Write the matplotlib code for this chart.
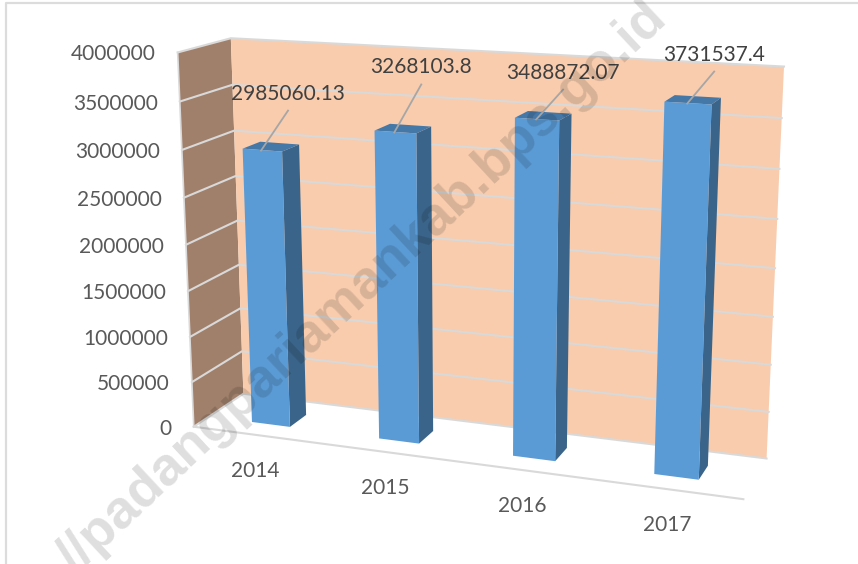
import numpy as np
import matplotlib
matplotlib.use('Agg')
import matplotlib.pyplot as plt
from matplotlib.patches import Polygon

years = ['2014', '2015', '2016', '2017']
values = [2985060.13, 3268103.8, 3488872.07, 3731537.4]
value_labels = ['2985060.13', '3268103.8', '3488872.07', '3731537.4']
ticks = [0, 500000, 1000000, 1500000, 2000000, 2500000, 3000000, 3500000, 4000000]
ymax = 4000000

plt.rcParams['font.family'] = ['Lato', 'DejaVu Sans']

# screen position of the walls at each tick, used to calibrate the 3d view
front_left = [(193, 426), (192.5, 382), (190, 337), (188, 292), (186, 245), (184, 198), (182, 150), (180, 102), (177, 52)]
back_left = [(243, 394), (242, 351), (240, 308), (239, 265), (237, 221), (236, 176), (234, 131), (233, 84), (231, 38)]
back_right = [(767, 458), (769, 412), (771, 365), (773, 317), (775, 268), (777, 220), (779, 169), (782, 118), (783, 66)]
front_right = [(743, 499), (761, 84)]

world = []
screen = []
for i in range(9):
    world += [(0, i / 8, 0), (0, i / 8, 1), (1, i / 8, 1)]
    screen += [front_left[i], back_left[i], back_right[i]]
world += [(1, 0, 0), (1, 1, 0)]
screen += front_right

# fit the projection matrix (dlt)
rows = []
for (a, b, c), (x, y) in zip(world, screen):
    x, y = x / 1000, y / 1000
    rows.append([a, b, c, 1, 0, 0, 0, 0, -x * a, -x * b, -x * c, -x])
    rows.append([0, 0, 0, 0, a, b, c, 1, -y * a, -y * b, -y * c, -y])
P = np.linalg.svd(np.array(rows))[2][-1].reshape(3, 4)


def proj(u, val, d):
    h = P @ np.array([u, val / ymax, d, 1.0])
    return h[0] / h[2] * 1000, h[1] / h[2] * 1000


fig = plt.figure(figsize=(8.58, 5.64), dpi=100)
ax = fig.add_axes([0, 0, 1, 1])
ax.set_xlim(0, 858)
ax.set_ylim(564, 0)
ax.axis('off')

# outer frame of the screenshot
ax.plot([6, 6, 858], [564, 3, 3], color='#dcdcdc', lw=1.6, zorder=1)

# walls
ax.add_patch(Polygon([proj(0, 0, 0), proj(0, ymax, 0), proj(0, ymax, 1), proj(0, 0, 1)],
                     fc='#a0806b', ec='none', zorder=2))
ax.add_patch(Polygon([proj(0, 0, 1), proj(0, ymax, 1), proj(1, ymax, 1), proj(1, 0, 1)],
                     fc='#f8ccad', ec='none', zorder=2))

grid_col = '#d9d9d9'
for t in ticks:
    a, b, c = proj(0, t, 0), proj(0, t, 1), proj(1, t, 1)
    ax.plot([a[0], b[0], c[0]], [a[1], b[1], c[1]], color=grid_col, lw=1.5, zorder=3)
    ax.text(a[0] - 22, a[1] + 2, str(t), ha='right', va='center', fontsize=15, color='#595959', zorder=3)

# floor and edge lines
a, b = proj(0, 0, 0), proj(1, 0, 0)
ax.plot([a[0], b[0]], [a[1], b[1]], color=grid_col, lw=1.5, zorder=3)
a, b = proj(0, 0, 0), proj(0, ymax, 0)
ax.plot([a[0], b[0]], [a[1], b[1]], color=grid_col, lw=1.2, zorder=3)

# bars
half = 0.038
d0, d1 = 0.3, 0.65
leader_dy = [40, 48, 30, 32]
for i, v in enumerate(values):
    u = (i + 0.5) / 4
    l, r = u - half, u + half
    side = [proj(r, 0, d0), proj(r, v, d0), proj(r, v, d1), proj(r, 0, d1)]
    top = [proj(l, v, d0), proj(r, v, d0), proj(r, v, d1), proj(l, v, d1)]
    front = [proj(l, 0, d0), proj(l, v, d0), proj(r, v, d0), proj(r, 0, d0)]
    ax.add_patch(Polygon(side, fc='#3a6489', ec='none', zorder=4))
    ax.add_patch(Polygon(top, fc='#4577a7', ec='none', zorder=4))
    ax.add_patch(Polygon(front, fc='#5b9bd5', ec='none', zorder=5))

    # label with leader line
    bx, by = proj(u, v, (d0 + d1) / 2 - 0.2)
    ax.plot([bx, bx + 27], [by, by - leader_dy[i]], color='#a6a6a6', lw=1.3, zorder=6)
    ax.text(bx + 27, by - leader_dy[i] - 17, value_labels[i], ha='center', va='center', fontsize=15,
            color='#404040', zorder=7)

    lx, ly = proj(u, 0, 0)
    ax.text(lx - 1, ly + 36, years[i], ha='center', va='center', fontsize=15, color='#595959', zorder=3)

# watermark
ax.text(362, 288, '//padangpariamankab.bps.go.id', rotation=43, rotation_mode='anchor',
        ha='center', va='center', fontsize=39, fontweight='bold', family='Liberation Sans',
        color='black', alpha=0.13, zorder=10)

fig.savefig('out.png', dpi=100)
